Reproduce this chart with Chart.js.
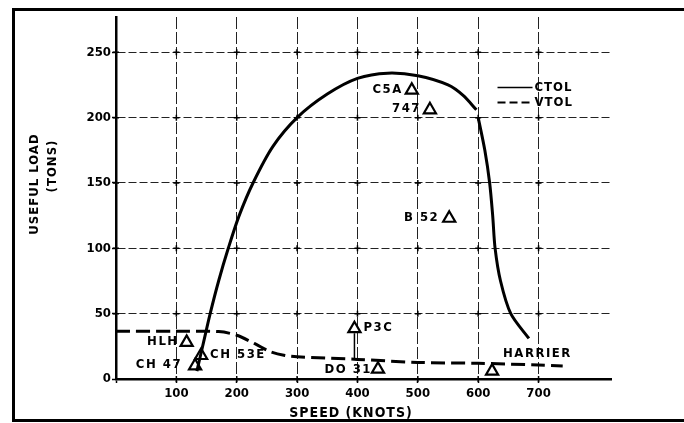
<!DOCTYPE html>
<html>
<head>
<meta charset="utf-8">
<script src="https://cdn.jsdelivr.net/npm/chart.js@4.4.0/dist/chart.umd.min.js"></script>
<style>
html, body { margin:0; padding:0; background:#fff; }
#wrap { position:relative; width:684px; height:423px; overflow:hidden; }
#frame { position:absolute; left:12px; top:8px; width:700px; height:408px;
         border-left:3px solid #000; border-top:3px solid #000; border-bottom:3px solid #000; }
canvas { position:absolute; left:0; top:0; }
</style>
</head>
<body>
<div id="wrap"><div id="frame"></div><canvas id="chart" width="684" height="423"></canvas></div>
<script>
// CTOL boundary - rising branch, up to the notch at 600 kt
var ctolSpeed = [134, 145, 156, 170, 186, 204, 227, 260, 300, 350, 400, 450, 500, 550, 575, 597];
var ctolLoad  = [6, 28, 50, 75, 100, 125, 150, 178, 200, 218, 230, 234, 232, 225, 217, 206];
// CTOL boundary - falling branch after 600 kt
var ctolFallSpeed = [600, 611, 619, 624, 628, 637, 654, 684];
var ctolFallLoad  = [200, 175, 150, 125, 100, 75, 50, 31];
// VTOL boundary
var vtolSpeed = [0, 100, 170, 200, 230, 255, 280, 300, 400, 500, 600, 700, 740];
var vtolLoad  = [36.5, 36.5, 36.3, 33.5, 27, 21, 18, 17, 15, 12.7, 12, 10.7, 10];
// aircraft
var aircraftNames = ['HLH', 'CH 47', 'CH 53E', 'P3C', 'DO 31', 'C5A', '747', 'B 52', 'HARRIER'];
var aircraftSpeed = [117, 131, 141, 395, 434, 490, 520, 552, 623];
var aircraftLoad  = [28, 10, 18, 38.5, 7.5, 221, 206, 123, 6];
// P3C leader line down to the VTOL curve
var p3cLeaderLoad = [35, 15];

var xTicks = [0, 100, 200, 300, 400, 500, 600, 700];
var yTicks = [0, 50, 100, 150, 200, 250];

var FONT = '"DejaVu Sans Condensed", "DejaVu Sans", sans-serif';

function pts(xs, ys) {
    var out = [];
    for (var i = 0; i < xs.length; i++) out.push({x: xs[i], y: ys[i]});
    return out;
}

// label side / offset per aircraft (px from triangle)
var labelPlace = {
    'HLH':     [-8, 0, 'right'],
    'CH 47':   [-13, 0, 'right'],
    'CH 53E':  [9, 0, 'left'],
    'P3C':     [9, 0, 'left'],
    'DO 31':   [-6, 1, 'right'],
    'C5A':     [-9, 0, 'right'],
    '747':     [-9, 0, 'right'],
    'B 52':    [-10, 0, 'right'],
    'HARRIER': [11, -17, 'left']
};

var decor = {
    id: 'decor',
    beforeDatasetsDraw: function(chart) {
        var ctx = chart.ctx, xs = chart.scales.x, ys = chart.scales.y;
        ctx.save();
        ctx.strokeStyle = '#000';
        ctx.lineWidth = 1.5;
        xTicks.forEach(function(xv) {
            yTicks.forEach(function(yv) {
                if (xv === 0 && yv === 0) return;
                var px = xs.getPixelForValue(xv), py = ys.getPixelForValue(yv);
                ctx.beginPath();
                ctx.moveTo(px - 3, py); ctx.lineTo(px + 3, py);
                ctx.moveTo(px, py - 3); ctx.lineTo(px, py + 3);
                ctx.stroke();
            });
        });
        ctx.restore();
    },
    afterDraw: function(chart) {
        var ctx = chart.ctx, xs = chart.scales.x, ys = chart.scales.y;
        ctx.save();
        ctx.fillStyle = '#000';
        ctx.font = 'bold 13px ' + FONT;
        ctx.textBaseline = 'middle';
        ctx.letterSpacing = '1.5px';
        aircraftNames.forEach(function(n, i) {
            var p = labelPlace[n];
            ctx.textAlign = p[2];
            ctx.fillText(n, xs.getPixelForValue(aircraftSpeed[i]) + p[0],
                ys.getPixelForValue(aircraftLoad[i]) - 1 + p[1]);
        });

        // legend
        ctx.letterSpacing = '1px';
        ctx.textAlign = 'left';
        var lx1 = xs.getPixelForValue(632), lx2 = xs.getPixelForValue(690);
        var ly1 = ys.getPixelForValue(223), ly2 = ys.getPixelForValue(211.5);
        ctx.strokeStyle = '#000';
        ctx.lineWidth = 1.5;
        ctx.beginPath(); ctx.moveTo(lx1, ly1); ctx.lineTo(lx2, ly1); ctx.stroke();
        ctx.lineWidth = 2;
        ctx.setLineDash([8, 4]);
        ctx.beginPath(); ctx.moveTo(lx1, ly2); ctx.lineTo(lx2, ly2); ctx.stroke();
        ctx.setLineDash([]);
        ctx.fillText('CTOL', lx2 + 2, ly1);
        ctx.fillText('VTOL', lx2 + 2, ly2);

        // axis titles
        ctx.font = 'bold 14px ' + FONT;
        ctx.textAlign = 'center';
        ctx.fillText('SPEED (KNOTS)', 351, 413);
        ctx.translate(35, 184);
        ctx.rotate(-Math.PI / 2);
        ctx.font = 'bold 13px ' + FONT;
        ctx.fillText('USEFUL LOAD', 0, 0);
        ctx.fillText('(TONS)', 18, 18);
        ctx.restore();
    }
};

var ctx = document.getElementById('chart').getContext('2d');
var chart = new Chart(ctx, {
    type: 'scatter',
    data: {
        datasets: [{
            label: 'CTOL',
            data: pts(ctolSpeed, ctolLoad),
            showLine: true,
            borderColor: '#000',
            borderWidth: 3,
            pointRadius: 0,
            tension: 0.3
        }, {
            label: 'CTOL',
            data: pts(ctolFallSpeed, ctolFallLoad),
            showLine: true,
            borderColor: '#000',
            borderWidth: 3,
            pointRadius: 0,
            tension: 0.3
        }, {
            label: 'VTOL',
            data: pts(vtolSpeed, vtolLoad),
            showLine: true,
            borderColor: '#000',
            borderWidth: 3,
            borderDash: [14, 6],
            pointRadius: 0,
            tension: 0.3
        }, {
            label: 'P3C leader',
            data: pts([aircraftSpeed[3], aircraftSpeed[3]], p3cLeaderLoad),
            showLine: true,
            borderColor: '#000',
            borderWidth: 1.5,
            pointRadius: 0
        }, {
            label: 'Aircraft',
            data: pts(aircraftSpeed, aircraftLoad),
            pointStyle: 'triangle',
            pointRadius: 7,
            pointBorderWidth: 2.2,
            pointBackgroundColor: '#fff',
            pointBorderColor: '#000'
        }]
    },
    options: {
        responsive: false,
        animation: false,
        layout: { padding: { top: 17, right: 73, left: 0, bottom: 0 } },
        plugins: { legend: { display: false }, tooltip: { enabled: false } },
        scales: {
            x: {
                type: 'linear',
                min: 0,
                max: 820,
                afterFit: function(scale) { scale.height = 44; },
                afterBuildTicks: function(scale) {
                    scale.ticks = xTicks.map(function(v) { return {value: v}; });
                },
                ticks: {
                    color: '#000',
                    padding: 3,
                    font: { family: FONT, size: 13, weight: 'bold' },
                    callback: function(v) { return v === 0 ? '' : String(v); }
                },
                grid: {
                    color: function(c) { return c.tick && c.tick.value === 0 ? 'transparent' : '#222'; },
                    lineWidth: 1,
                    tickLength: 4,
                    tickColor: '#000',
                    tickWidth: 1.5
                },
                border: { display: true, color: '#000', width: 2.5, dash: [12, 3] }
            },
            y: {
                min: 0,
                max: 277,
                afterFit: function(scale) { scale.width = 116; },
                afterBuildTicks: function(scale) {
                    scale.ticks = yTicks.map(function(v) { return {value: v}; });
                },
                ticks: {
                    color: '#000',
                    padding: 1,
                    font: { family: FONT, size: 13, weight: 'bold' }
                },
                grid: {
                    color: function(c) { return c.tick && c.tick.value === 0 ? 'transparent' : '#222'; },
                    lineWidth: 1,
                    tickLength: 4,
                    tickColor: '#000',
                    tickWidth: 1.5
                },
                border: { display: true, color: '#000', width: 2.5, dash: [8, 3] }
            }
        }
    },
    plugins: [decor]
});
</script>
</body>
</html>
